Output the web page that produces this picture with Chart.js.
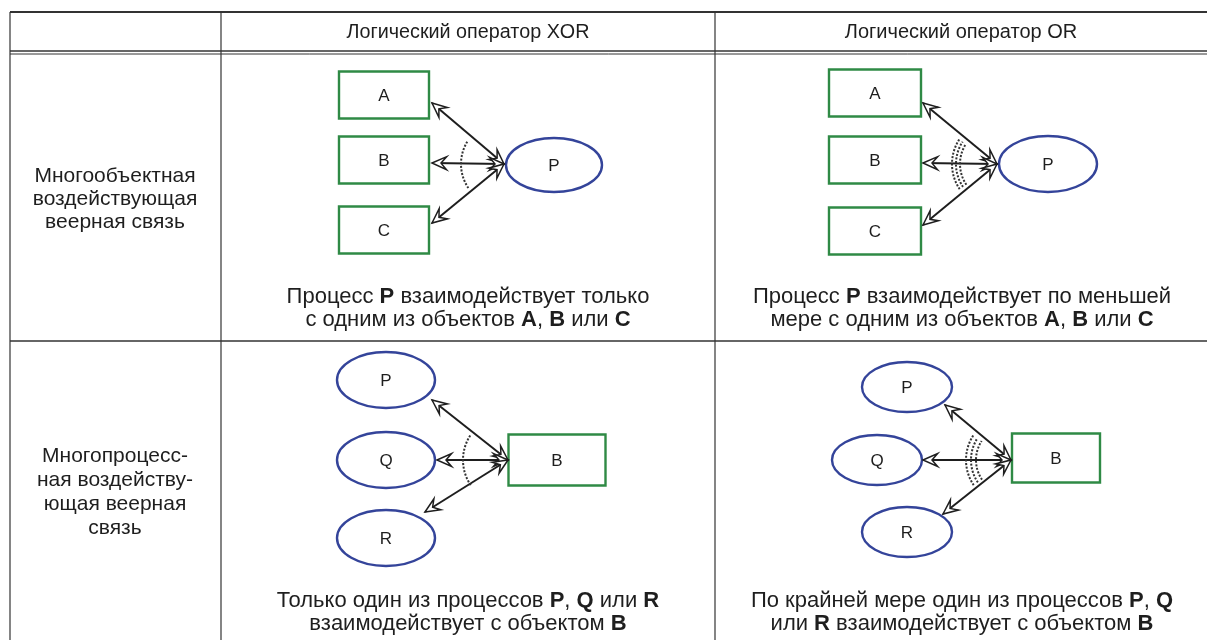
<!DOCTYPE html>
<html>
<head>
<meta charset="utf-8">
<script src="https://cdn.jsdelivr.net/npm/chart.js@4"></script>
<style>
  html, body { margin: 0; padding: 0; background: #fff; }
  canvas { display: block; }
</style>
</head>
<body>
<canvas id="fanChart" width="1207" height="640"></canvas>
<script>
// --- data ---
const columnHeaders = ['Логический оператор XOR', 'Логический оператор OR'];
const rowLabels = [
  ['Многообъектная', 'воздействующая', 'веерная связь'],
  ['Многопроцесс-', 'ная воздейству-', 'ющая веерная', 'связь']
];
// ** marks bold parts, | splits lines
const captions = [
  ['Процесс **P** взаимодействует только|с одним из объектов **A**, **B** или **C**',
   'Процесс **P** взаимодействует по меньшей|мере с одним из объектов **A**, **B** или **C**'],
  ['Только один из процессов **P**, **Q** или **R**|взаимодействует с объектом **B**',
   'По крайней мере один из процессов **P**, **Q**|или **R** взаимодействует с объектом **B**']
];
const sideNodes = [['A', 'B', 'C'], ['P', 'Q', 'R']];
const hubNodes = ['P', 'B'];
const arcCounts = [1, 3]; // XOR = one dotted arc, OR = three

// --- layout (pixel space of the hidden scales) ---
const layout = {
  cols: [10, 221, 715, 1207],
  headerTop: 12, headerBottom: 51, rowSplit: 341, bottom: 640,
  headerWidth: 243,
  diagrams: [
    [
      { hub: { x: 554, y: 165, rx: 48, ry: 27, shape: 'ellipse' }, conv: { x: 504, y: 164 },
        sides: [{ x: 384, y: 95 }, { x: 384, y: 160 }, { x: 384, y: 230 }], sw: 90, sh: 47, sideShape: 'rect',
        tips: [{ x: 432, y: 103 }, { x: 432, y: 163 }, { x: 432, y: 223 }], radii: [43] },
      { hub: { x: 1048, y: 164, rx: 49, ry: 28, shape: 'ellipse' }, conv: { x: 997, y: 164 },
        sides: [{ x: 875, y: 93 }, { x: 875, y: 160 }, { x: 875, y: 231 }], sw: 92, sh: 47, sideShape: 'rect',
        tips: [{ x: 923, y: 103 }, { x: 923, y: 163 }, { x: 923, y: 225 }], radii: [37, 41, 45] }
    ],
    [
      { hub: { x: 557, y: 460, w: 97, h: 51, shape: 'rect' }, conv: { x: 508, y: 460 },
        sides: [{ x: 386, y: 380 }, { x: 386, y: 460 }, { x: 386, y: 538 }], rx: 49, ry: 28, sideShape: 'ellipse',
        tips: [{ x: 432, y: 400 }, { x: 437, y: 460 }, { x: 425, y: 512 }], radii: [45] },
      { hub: { x: 1056, y: 458, w: 88, h: 49, shape: 'rect' }, conv: { x: 1011, y: 460 },
        sides: [{ x: 907, y: 387 }, { x: 877, y: 460 }, { x: 907, y: 532 }], rx: 45, ry: 25, sideShape: 'ellipse',
        tips: [{ x: 945, y: 405 }, { x: 923, y: 460 }, { x: 943, y: 514 }], radii: [35, 40, 45] }
    ]
  ],
  captionX: [468, 962],
  captionY: [[297, 320], [601, 624]],
  labelX: 115,
  labelY: [[176, 199, 222], [456, 480, 504, 528]]
};

const FONT = '"Liberation Sans", Arial, sans-serif';
const GREEN = '#2f8a45';
const BLUE = '#34449a';
const INK = '#1e1e1e';
const CAPTION_SIZE = 22;
const LABEL_SIZE = 21;

function richLine(ctx, text, cx, y, size) {
  const parts = text.split('**').map((t, i) => ({ t, bold: i % 2 === 1 }));
  let total = 0;
  parts.forEach(p => {
    ctx.font = (p.bold ? 'bold ' : '') + size + 'px ' + FONT;
    p.w = ctx.measureText(p.t).width;
    total += p.w;
  });
  let x = cx - total / 2;
  ctx.textAlign = 'left';
  parts.forEach(p => {
    ctx.font = (p.bold ? 'bold ' : '') + size + 'px ' + FONT;
    ctx.fillText(p.t, x, y);
    x += p.w;
  });
}

function arrowHead(ctx, tip, from) {
  const a = Math.atan2(tip.y - from.y, tip.x - from.x);
  const len = 16, s = 0.42, notch = 9;
  ctx.beginPath();
  ctx.moveTo(tip.x, tip.y);
  ctx.lineTo(tip.x - len * Math.cos(a - s), tip.y - len * Math.sin(a - s));
  ctx.lineTo(tip.x - notch * Math.cos(a), tip.y - notch * Math.sin(a));
  ctx.lineTo(tip.x - len * Math.cos(a + s), tip.y - len * Math.sin(a + s));
  ctx.closePath();
  ctx.fillStyle = '#fff';
  ctx.fill();
  ctx.lineWidth = 1.5;
  ctx.strokeStyle = INK;
  ctx.stroke();
}

const diagramPlugin = {
  id: 'diagram',
  afterDatasetsDraw(chart) {
    const ctx = chart.ctx;
    const sx = chart.scales.x, sy = chart.scales.y;
    const X = v => sx.getPixelForValue(v);
    const Y = v => sy.getPixelForValue(v);
    ctx.save();

    // table rules
    ctx.strokeStyle = '#333';
    const hline = (y, w) => { ctx.lineWidth = w; ctx.beginPath(); ctx.moveTo(X(layout.cols[0]), Y(y)); ctx.lineTo(X(1207), Y(y)); ctx.stroke(); };
    hline(layout.headerTop, 2);
    hline(layout.headerBottom, 1.5);
    hline(layout.headerBottom + 3, 1);
    hline(layout.rowSplit, 1.5);
    ctx.lineWidth = 1.2;
    layout.cols.slice(0, 3).forEach(c => {
      ctx.beginPath(); ctx.moveTo(X(c), Y(layout.headerTop)); ctx.lineTo(X(c), Y(layout.bottom)); ctx.stroke();
    });

    // header, narrow face made by squeezing the regular one
    ctx.fillStyle = INK;
    ctx.textBaseline = 'middle';
    ctx.textAlign = 'center';
    ctx.font = '20px ' + FONT;
    columnHeaders.forEach((h, i) => {
      const w = ctx.measureText(h).width;
      const k = Math.min(1, (layout.headerWidth * h.length / 23) / w);
      ctx.save();
      ctx.translate(X((layout.cols[i + 1] + layout.cols[i + 2]) / 2), Y(32));
      ctx.scale(k, 1);
      ctx.fillText(h, 0, 0);
      ctx.restore();
    });

    // row labels
    ctx.font = LABEL_SIZE + 'px ' + FONT;
    rowLabels.forEach((lines, r) => {
      lines.forEach((l, k) => ctx.fillText(l, X(layout.labelX), Y(layout.labelY[r][k])));
    });

    // captions
    captions.forEach((row, r) => row.forEach((cap, c) => {
      cap.split('|').forEach((l, k) => {
        ctx.fillStyle = INK;
        richLine(ctx, l, X(layout.captionX[c]), Y(layout.captionY[r][k]), CAPTION_SIZE);
      });
    }));

    // diagrams
    layout.diagrams.forEach((row, r) => row.forEach((d, c) => {
      const drawNode = (shape, n, w, h, label, color) => {
        ctx.lineWidth = 2.4;
        ctx.strokeStyle = color;
        ctx.fillStyle = '#fff';
        ctx.beginPath();
        if (shape === 'rect') ctx.rect(X(n.x - w / 2), Y(n.y - h / 2), w, h);
        else ctx.ellipse(X(n.x), Y(n.y), w, h, 0, 0, Math.PI * 2);
        ctx.fill();
        ctx.stroke();
        ctx.fillStyle = INK;
        ctx.textAlign = 'center';
        ctx.font = '17px ' + FONT;
        ctx.fillText(label, X(n.x), Y(n.y + 1));
      };
      if (d.hub.shape === 'rect') drawNode('rect', d.hub, d.hub.w, d.hub.h, hubNodes[r], GREEN);
      else drawNode('ellipse', d.hub, d.hub.rx, d.hub.ry, hubNodes[r], BLUE);
      d.sides.forEach((n, k) => {
        if (d.sideShape === 'rect') drawNode('rect', n, d.sw, d.sh, sideNodes[r][k], GREEN);
        else drawNode('ellipse', n, d.rx, d.ry, sideNodes[r][k], BLUE);
      });
      const cv = { x: X(d.conv.x), y: Y(d.conv.y) };
      // shafts
      ctx.strokeStyle = INK;
      ctx.lineWidth = 2;
      d.tips.forEach(t => {
        ctx.beginPath(); ctx.moveTo(X(t.x), Y(t.y)); ctx.lineTo(cv.x, cv.y); ctx.stroke();
      });
      // dotted arcs
      ctx.save();
      ctx.setLineDash([2, 1.6]);
      ctx.lineWidth = 2;
      ctx.strokeStyle = '#333';
      const a0 = 146 * Math.PI / 180, a1 = 213 * Math.PI / 180;
      d.radii.slice(0, arcCounts[c]).forEach(rad => {
        ctx.beginPath(); ctx.arc(cv.x, cv.y, rad, a0, a1); ctx.stroke();
      });
      ctx.restore();
      // arrow heads at both ends
      d.tips.forEach(t => {
        const tp = { x: X(t.x), y: Y(t.y) };
        arrowHead(ctx, tp, cv);
        arrowHead(ctx, cv, tp);
      });
    }));
    ctx.restore();
  }
};

// every node centre goes through the chart's scales
const anchorPoints = [];
layout.diagrams.forEach(row => row.forEach(d => {
  anchorPoints.push({ x: d.hub.x, y: d.hub.y });
  d.sides.forEach(n => anchorPoints.push({ x: n.x, y: n.y }));
}));

new Chart(document.getElementById('fanChart'), {
  type: 'scatter',
  data: { datasets: [{ data: anchorPoints, pointRadius: 0, showLine: false }] },
  options: {
    responsive: false,
    animation: false,
    layout: { padding: 0 },
    plugins: { legend: { display: false }, tooltip: { enabled: false } },
    scales: {
      x: { type: 'linear', min: 0, max: 1207, display: false },
      y: { type: 'linear', min: 0, max: 640, reverse: true, display: false }
    }
  },
  plugins: [diagramPlugin]
});
</script>
</body>
</html>
